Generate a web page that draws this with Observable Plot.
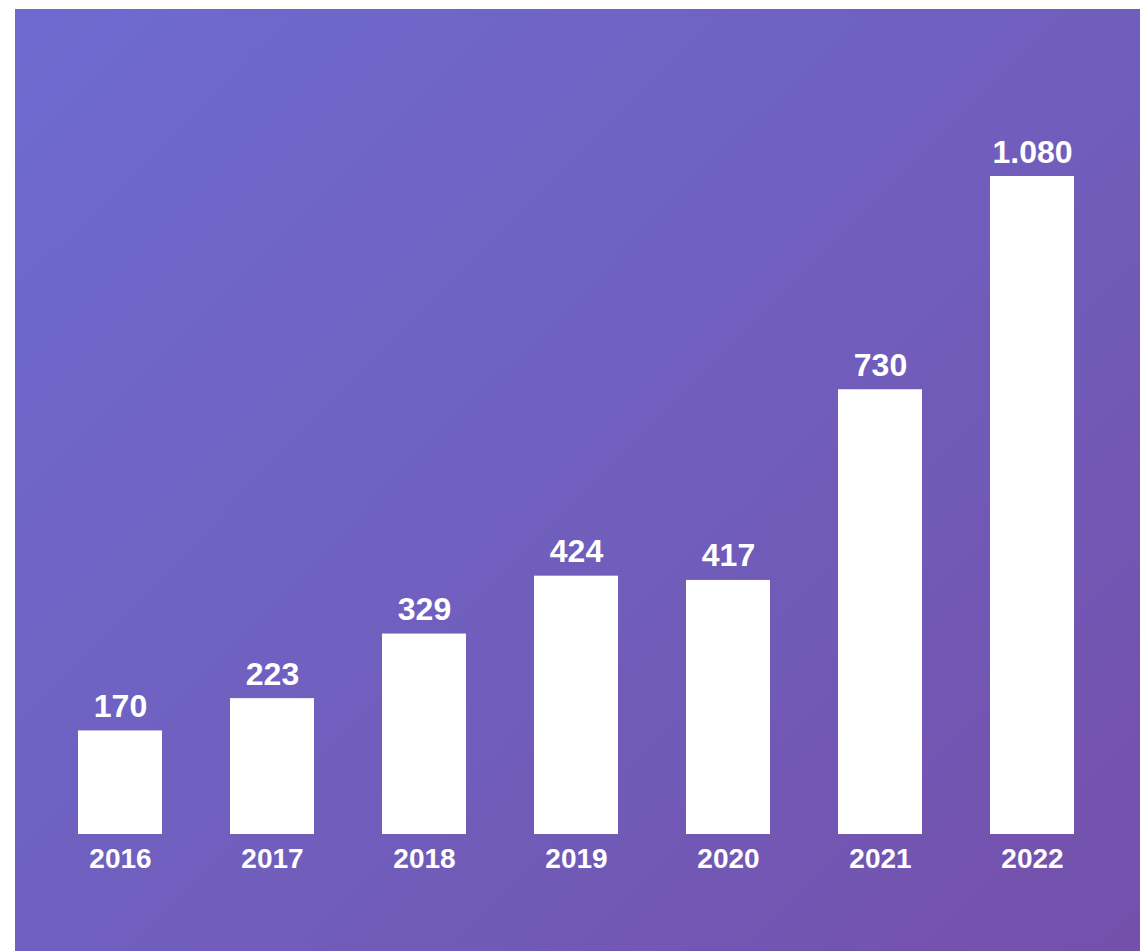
<!DOCTYPE html>
<html>
<head>
<meta charset="utf-8">
<script src="https://cdn.jsdelivr.net/npm/d3@7"></script>
<script src="https://cdn.jsdelivr.net/npm/@observablehq/plot@0.6"></script>
<style>
  html, body { margin: 0; padding: 0; background: #ffffff; }
  #frame {
    position: absolute; left: 15px; top: 9px;
    width: 1125px; height: 942px;
    background: linear-gradient(135deg, #6e6bd0 0%, #705fbe 50%, #7450ab 100%);
  }
</style>
</head>
<body>
<div id="frame"></div>
<script>
const years = ["2016", "2017", "2018", "2019", "2020", "2021", "2022"];
const values = [170, 223, 329, 424, 417, 730, 1080];

const fmt = d3.formatLocale({decimal: ",", thousands: ".", grouping: [3], currency: ["", ""]}).format(",");
const data = years.map((y, i) => ({year: y, value: values[i]}));

const chart = Plot.plot({
  width: 1125,
  height: 942,
  marginLeft: 61,
  marginRight: 65,
  marginTop: 167,
  marginBottom: 117,
  style: {background: "transparent", fontFamily: "'Liberation Sans', Arial, Helvetica, sans-serif"},
  x: {domain: years, paddingInner: 0.45, paddingOuter: 0, axis: null},
  y: {domain: [0, 1080], axis: null},
  marks: [
    Plot.barY(data, {x: "year", y: "value", fill: "#ffffff"}),
    Plot.text(data, {x: "year", y: "value", text: d => fmt(d.value), dy: -14, lineAnchor: "bottom",
      fill: "#ffffff", fontSize: 32, fontWeight: "bold"}),
    Plot.text(data, {x: "year", y: 0, text: "year", dy: 33, lineAnchor: "bottom",
      fill: "#ffffff", fontSize: 28, fontWeight: "bold"})
  ]
});
document.getElementById("frame").appendChild(chart);
</script>
</body>
</html>
